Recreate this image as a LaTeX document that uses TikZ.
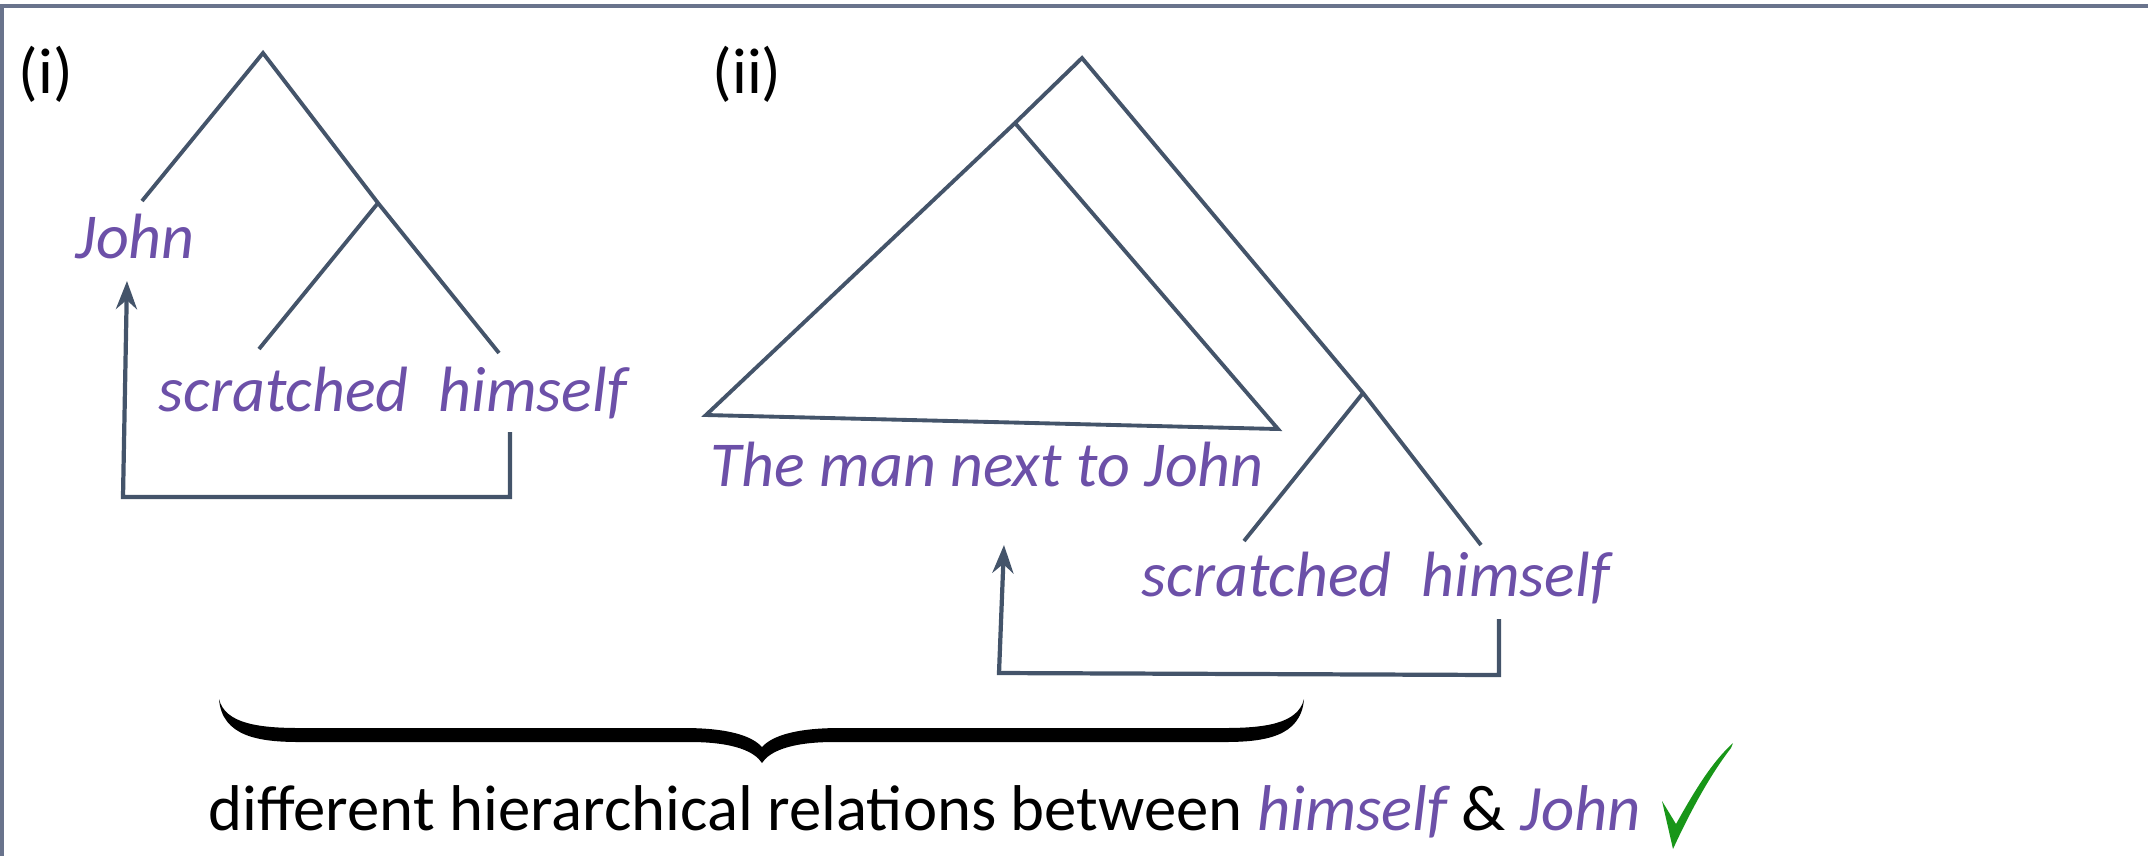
\documentclass[tikz,border=0pt]{standalone}
\usepackage{fontspec}
\setmainfont{Carlito}
\usetikzlibrary{arrows.meta}
\definecolor{slate}{RGB}{68,84,106}
\definecolor{wordpurple}{RGB}{108,80,168}
\definecolor{framegray}{RGB}{105,115,140}
\definecolor{tickgreen}{RGB}{24,150,24}
\tikzset{
  >={Stealth[length=8pt,width=6pt]},
  branch/.style={draw=slate,line width=1.1pt},
  link/.style={->,draw=slate,line width=1.2pt},
  word/.style={text=wordpurple,font=\fontsize{18.2}{22}\selectfont\itshape,inner sep=0pt,anchor=base west},
  tag/.style={font=\fontsize{18.4}{22}\selectfont,inner sep=0pt,anchor=base west},
}
\begin{document}
\begin{tikzpicture}[x=0.01cm,y=-0.01cm]
  \useasboundingbox (0,0) rectangle (2148,856);
  % frame, only top and left edge
  \draw[framegray,line width=1pt] (2148,6) -- (2,6) -- (2,856);

  % (i) John scratched himself
  \node[tag] (lab1) at (18,93) {(i)};
  \node[word] (john1) at (75,258) {John};
  \node[word] (scr1) at (158,411) {scratched};
  \node[word] (him1) at (438,411) {himself};
  \coordinate (top1) at (263,53);
  \coordinate (vp1) at (378,203);
  \coordinate (jend1) at (142,201);
  \coordinate (send1) at (259,349);
  \coordinate (hend1) at (499,353);
  \draw[branch] (jend1) -- (top1) -- (vp1) -- (hend1);
  \draw[branch] (vp1) -- (send1);
  \coordinate (from1) at (510,432);
  \coordinate (to1) at (127,281);
  \draw[link] (from1) -- (510,497) -- (123,497) -- (to1);

  % (ii) The man next to John scratched himself
  \node[tag] (lab2) at (712,93) {(ii)};
  \node[word] (np2) at (710,486) {The man next to John};
  \node[word] (scr2) at (1141,596) {scratched};
  \node[word] (him2) at (1421,596) {himself};
  \coordinate (top2) at (1082,58);
  \coordinate (tri2) at (1015,123);
  \coordinate (vp2) at (1363,393);
  \coordinate (send2) at (1244,541);
  \coordinate (hend2) at (1481,545);
  \draw[branch] (tri2) -- (top2) -- (vp2) -- (hend2);
  \draw[branch] (vp2) -- (send2);
  \draw[branch] (tri2) -- (706,415) -- (1278,429) -- cycle;
  \coordinate (from2) at (1499,619);
  \coordinate (to2) at (1004,545);
  \draw[link] (from2) -- (1499,675) -- (999,673) -- (to2);

  % brace
  \fill (219,699) .. controls (222,737) and (260,742) .. (300,742) -- (690,742)
    .. controls (735,742) and (755,752) .. (762,763)
    .. controls (769,752) and (789,742) .. (834,742) -- (1224,742)
    .. controls (1264,742) and (1301,737) .. (1304,699)
    .. controls (1298,724) and (1264,728) .. (1224,728) -- (840,728)
    .. controls (795,728) and (772,736) .. (762,747)
    .. controls (752,736) and (729,728) .. (684,728) -- (300,728)
    .. controls (260,728) and (225,724) .. (219,699) -- cycle;

  \node[tag] (note) at (208,830) {different hierarchical relations between
    \textcolor{wordpurple}{\itshape himself} \& \textcolor{wordpurple}{\itshape John}};
  % tick
  \fill[tickgreen] (1662,801) -- (1676,824) .. controls (1695,790) and (1712,762) .. (1733,743)
    -- (1731,748) .. controls (1710,775) and (1690,812) .. (1673,849) -- cycle;
\end{tikzpicture}
\end{document}
